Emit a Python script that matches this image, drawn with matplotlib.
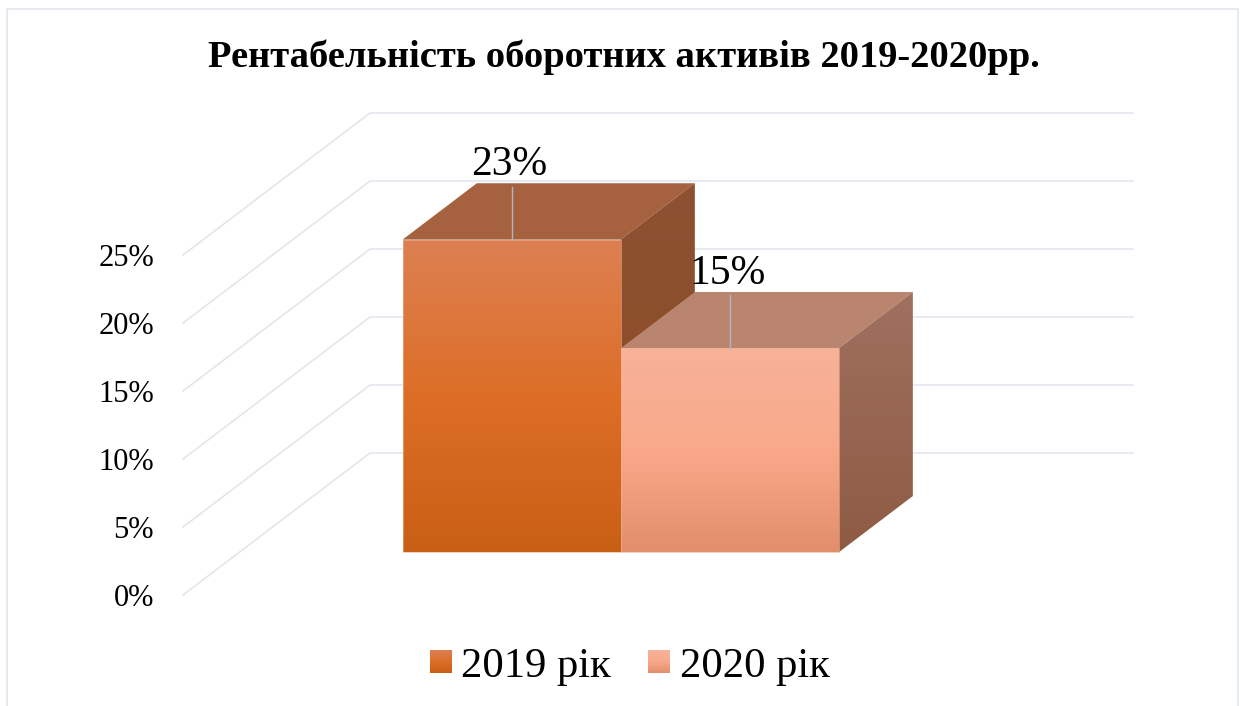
from matplotlib import pyplot as plt, patches
import matplotlib
import numpy as np

matplotlib.use("Agg")
plt.rcParams['font.family'] = ['Liberation Serif', 'DejaVu Serif']

title = "Рентабельність оборотних активів 2019-2020рр."
series = ["2019 рік", "2020 рік"]
values = [23, 15]
value_labels = ["23%", "15%"]
ticks = [0, 5, 10, 15, 20, 25]
tick_labels = ["0%", "5%", "10%", "15%", "20%", "25%"]

front_colors = [["#DC8052", "#DD6E27", "#C95F15"], ["#F6B298", "#F9A98A", "#E28E6C"]]
top_colors = ["#A6623F", "#B9856F"]
side_colors = [["#8E5233", "#8A4A20"], ["#A07160", "#8E5A43"]]
grid_color = "#E3E6ED"

W, H = 1240, 706
# pixel size of the fake 3d box
ORIGIN_X, ORIGIN_Y = 183, 595
FLOOR_W = 763
PX_PER_PCT = 13.6
DEPTH_X, DEPTH_Y = 187, 142
GAP_WIDTH = 1.5
BAR_D0, BAR_D1 = 0.30, 0.697

fig = plt.figure(figsize=(W / 100, H / 100), dpi=100)
ax = fig.add_axes([0, 0, 1, 1])
xlim = (-ORIGIN_X / FLOOR_W, (W - ORIGIN_X) / FLOOR_W)
ylim = ((ORIGIN_Y - H) / PX_PER_PCT, ORIGIN_Y / PX_PER_PCT)
dx_unit = DEPTH_X / FLOOR_W
dy_unit = DEPTH_Y / PX_PER_PCT


def project(x, v, d):
    return x + d * dx_unit, v + d * dy_unit


def px_to_data(px, py):
    return xlim[0] + px / FLOOR_W, ylim[1] - py / PX_PER_PCT


def gradient_poly(points, colors, zorder=3):
    points = np.array(points)
    cmap = matplotlib.colors.LinearSegmentedColormap.from_list("g", colors)
    grad = np.linspace(0, 1, 256).reshape(-1, 1)
    extent = (points[:, 0].min(), points[:, 0].max(), points[:, 1].min(), points[:, 1].max())
    im = ax.imshow(grad, cmap=cmap, extent=extent, origin="upper", aspect="auto", zorder=zorder)
    poly = patches.Polygon(points, closed=True, transform=ax.transData, fc="none", ec="none")
    ax.add_patch(poly)
    im.set_clip_path(poly)


# walls
for t, lab in zip(ticks, tick_labels):
    ax.plot(*zip(project(0, t, 0), project(0, t, 1), project(1, t, 1)), color=grid_color, lw=1.2, zorder=1,
            solid_joinstyle="miter")
    ax.text(-0.038, t, lab, ha="right", va="center_baseline", fontsize=22, color="black")

# bars, back to front is left to right here
bar_w = 1 / (len(values) + GAP_WIDTH)
start = (1 - bar_w * len(values)) / 2
for i, v in enumerate(values):
    x0 = start + i * bar_w
    x1 = x0 + bar_w
    z = 3 + i
    top = [project(x0, v, BAR_D0), project(x1, v, BAR_D0), project(x1, v, BAR_D1), project(x0, v, BAR_D1)]
    ax.add_patch(patches.Polygon(top, closed=True, fc=top_colors[i], ec="none", zorder=z))
    side = [project(x1, 0, BAR_D0), project(x1, v, BAR_D0), project(x1, v, BAR_D1), project(x1, 0, BAR_D1)]
    gradient_poly(side, side_colors[i], zorder=z)
    front = [project(x0, 0, BAR_D0), project(x1, 0, BAR_D0), project(x1, v, BAR_D0), project(x0, v, BAR_D0)]
    gradient_poly(front, front_colors[i], zorder=z + 0.1)
    ax.add_patch(patches.Polygon(front, closed=True, fc="none", ec="#F0B090", lw=0.6, alpha=0.7, zorder=z + 0.2))

    # leader line and label
    cx = (x0 + x1) / 2
    fx, fy = project(cx, v, BAR_D0)
    ax.plot([fx, fx], [fy, fy + 3.9], color="#AEB6C4", lw=1.0, zorder=z + 0.3)
    ax.text(fx - 0.003, fy + 4.75, value_labels[i], ha="center", va="baseline", fontsize=30, color="black", zorder=8)

# legend
swatch_x = [430, 648]
label_x = [461, 680]
for i, name in enumerate(series):
    x0, y0 = px_to_data(swatch_x[i], 673)
    x1, y1 = px_to_data(swatch_x[i] + 22, 650)
    gradient_poly([(x0, y0), (x1, y0), (x1, y1), (x0, y1)], front_colors[i], zorder=6)
    tx, ty = px_to_data(label_x[i], 677)
    ax.text(tx, ty, name, ha="left", va="baseline", fontsize=30.7, color="black")

tx, ty = px_to_data(623.5, 67)
ax.text(tx, ty, title, ha="center", va="baseline", fontsize=27.7, fontweight="bold", color="black")

# chart frame, open at the bottom
fx0, fy0 = px_to_data(7, 9)
fx1, fy1 = px_to_data(1238, H)
ax.plot([fx0, fx0, fx1, fx1], [fy1, fy0, fy0, fy1], color=grid_color, lw=1.2, zorder=1)

ax.set_xlim(xlim)
ax.set_ylim(ylim)
ax.axis("off")

fig.savefig("out.png", dpi=100)
